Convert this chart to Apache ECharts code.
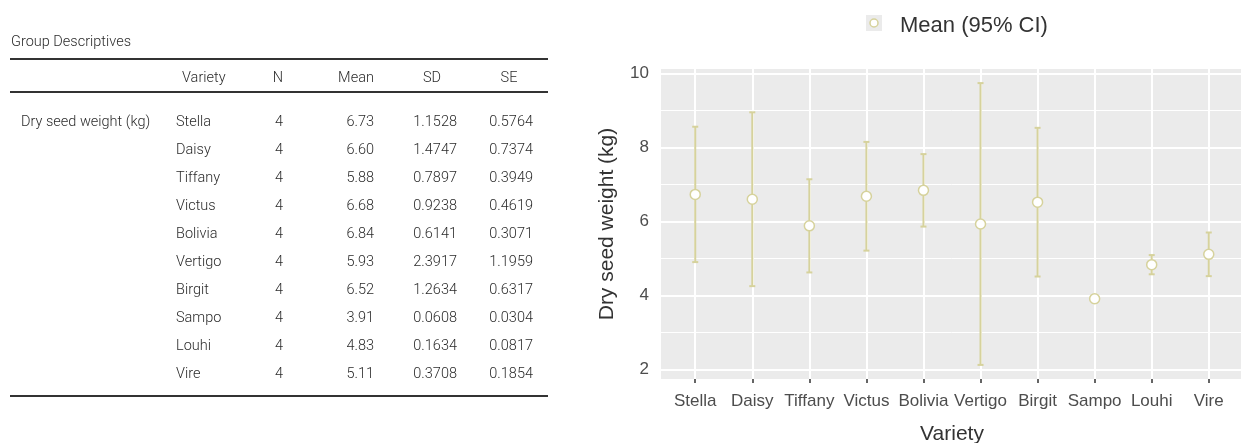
<!DOCTYPE html>
<html>
<head>
<meta charset="utf-8">
<script src="https://cdn.jsdelivr.net/npm/echarts@6/dist/echarts.min.js"></script>
<style>
  html, body { margin: 0; padding: 0; background: #fff; width: 1241px; height: 443px; overflow: hidden; position: relative; }
  #chart { position: absolute; left: 0; top: 0; width: 1241px; height: 443px; }
  #table { position: absolute; left: 0; top: 0; width: 560px; height: 443px; z-index: 2;
           font-family: Roboto, "Open Sans", sans-serif; font-weight: 300; color: #2b2b2b; font-size: 14.5px; }
  .cell { position: absolute; white-space: nowrap; height: 20px; line-height: 20px; }
  .rule { position: absolute; left: 10px; width: 538px; background: #333; }
</style>
</head>
<body>
<div id="chart"></div>
<div id="table"></div>
<script>
// Group descriptives for dry seed weight by variety
const categories = ['Stella', 'Daisy', 'Tiffany', 'Victus', 'Bolivia', 'Vertigo', 'Birgit', 'Sampo', 'Louhi', 'Vire'];
const nValues = [4, 4, 4, 4, 4, 4, 4, 4, 4, 4];
const means = [6.73, 6.60, 5.88, 6.68, 6.84, 5.93, 6.52, 3.91, 4.83, 5.11];
const sds = ['1.1528', '1.4747', '0.7897', '0.9238', '0.6141', '2.3917', '1.2634', '0.0608', '0.1634', '0.3708'];
const ses = ['0.5764', '0.7374', '0.3949', '0.4619', '0.3071', '1.1959', '0.6317', '0.0304', '0.0817', '0.1854'];
// 95% confidence interval bounds of each mean
const ciLower = [4.90, 4.25, 4.62, 5.21, 5.86, 2.12, 4.51, 3.81, 4.57, 4.52];
const ciUpper = [8.56, 8.95, 7.14, 8.15, 7.82, 9.74, 8.53, 4.01, 5.09, 5.70];
const yMajorTicks = [2, 4, 6, 8, 10];
const yMinorTicks = [3, 5, 7, 9];

const tableTitle = 'Group Descriptives';
const dependentLabel = 'Dry seed weight (kg)';
const headers = ['Variety', 'N', 'Mean', 'SD', 'SE'];

// ---- descriptives table ----
(function buildTable() {
  const t = document.getElementById('table');
  function cell(text, x, cy, align) {
    const d = document.createElement('div');
    d.className = 'cell';
    d.textContent = text;
    d.style.top = (cy - 10) + 'px';
    if (align === 'left') { d.style.left = x + 'px'; }
    else if (align === 'right') { d.style.left = (x - 120) + 'px'; d.style.width = '120px'; d.style.textAlign = 'right'; }
    else { d.style.left = (x - 60) + 'px'; d.style.width = '120px'; d.style.textAlign = 'center'; }
    t.appendChild(d);
  }
  function rule(y, h) {
    const r = document.createElement('div');
    r.className = 'rule';
    r.style.top = y + 'px';
    r.style.height = h + 'px';
    t.appendChild(r);
  }
  cell(tableTitle, 11, 42, 'left');
  rule(58, 2);
  const headerY = 78;
  cell(headers[0], 182, headerY, 'left');
  cell(headers[1], 283, headerY, 'right');
  cell(headers[2], 356, headerY, 'center');
  cell(headers[3], 432, headerY, 'center');
  cell(headers[4], 509, headerY, 'center');
  rule(91, 2);
  const rowY0 = 121.5, rowH = 28.1;
  cell(dependentLabel, 21, rowY0, 'left');
  categories.forEach((name, i) => {
    const y = rowY0 + i * rowH;
    cell(name, 176, y, 'left');
    cell(String(nValues[i]), 283, y, 'right');
    cell(means[i].toFixed(2), 374, y, 'right');
    cell(sds[i], 457, y, 'right');
    cell(ses[i], 533, y, 'right');
  });
  rule(395, 2);
})();

// ---- mean and 95% CI plot ----
const lineColor = '#d6d29c';
const panelColor = '#ebebeb';
const lo = Math.min(...ciLower), hi = Math.max(...ciUpper);
const pad = (hi - lo) * 0.05;
const idx = categories.map((_, i) => i);

const chart = echarts.init(document.getElementById('chart'), null, { renderer: 'canvas' });
const gridLines = [];
yMinorTicks.forEach(v => gridLines.push({ yAxis: v, lineStyle: { width: 1 } }));
yMajorTicks.forEach(v => gridLines.push({ yAxis: v, lineStyle: { width: 2 } }));
idx.forEach(v => gridLines.push({ xAxis: v, lineStyle: { width: 2 } }));

chart.setOption({
  animation: false,
  textStyle: { fontFamily: '"Liberation Sans", Arial, sans-serif' },
  grid: {
    left: 661, top: 69, width: 582, height: 310,
    outerBoundsMode: 'none',
    show: true, backgroundColor: panelColor, borderWidth: 0, containLabel: false
  },
  xAxis: {
    type: 'value', min: -0.6, max: idx.length - 1 + 0.6,
    axisLine: { show: false },
    splitLine: { show: false },
    axisTick: { show: true, customValues: idx, length: 4, lineStyle: { color: '#333', width: 1.5 } },
    axisLabel: { customValues: idx, formatter: v => categories[v], fontSize: 17, color: '#4d4d4d', margin: 14 },
    name: 'Variety', nameLocation: 'middle', nameGap: 45,
    nameTextStyle: { fontSize: 21, color: '#333' }
  },
  yAxis: {
    type: 'value', min: lo - pad, max: hi + pad,
    axisLine: { show: false },
    splitLine: { show: false },
    axisTick: { show: true, customValues: yMajorTicks, length: 4, lineStyle: { color: '#333', width: 1.5 } },
    axisLabel: { customValues: yMajorTicks, fontSize: 17, color: '#4d4d4d', margin: 12 },
    name: dependentLabel, nameLocation: 'middle', nameGap: 43,
    nameTextStyle: { fontSize: 21, color: '#333' }
  },
  series: [
    {
      type: 'line', data: [], silent: true, z: 1,
      markLine: {
        z: 1,
        silent: true, symbol: 'none', label: { show: false },
        lineStyle: { color: '#ffffff', type: 'solid' },
        emphasis: { disabled: true },
        data: gridLines
      }
    },
    {
      type: 'custom', z: 3,
      data: idx.map(i => [i, ciLower[i], ciUpper[i]]),
      renderItem: function (params, api) {
        const x = api.value(0);
        const pLo = api.coord([x, api.value(1)]);
        const pHi = api.coord([x, api.value(2)]);
        const cap = 3;
        const style = { stroke: lineColor, lineWidth: 2 };
        return {
          type: 'group',
          children: [
            { type: 'line', shape: { x1: pLo[0], y1: pLo[1], x2: pHi[0], y2: pHi[1] }, style },
            { type: 'line', shape: { x1: pLo[0] - cap, y1: pLo[1], x2: pLo[0] + cap, y2: pLo[1] }, style },
            { type: 'line', shape: { x1: pHi[0] - cap, y1: pHi[1], x2: pHi[0] + cap, y2: pHi[1] }, style }
          ]
        };
      }
    },
    {
      type: 'scatter', name: 'Mean (95% CI)', z: 4,
      data: idx.map(i => [i, means[i]]),
      symbol: 'circle', symbolSize: 10,
      itemStyle: { color: '#ffffff', borderColor: lineColor, borderWidth: 1.5, opacity: 1 }
    }
  ],
  graphic: [
    { type: 'rect', left: 866, top: 15, shape: { width: 16, height: 16 }, style: { fill: panelColor } },
    { type: 'circle', shape: { cx: 874, cy: 23, r: 4 }, style: { fill: '#ffffff', stroke: lineColor, lineWidth: 1.5 } },
    { type: 'text', left: 900, top: 15, style: { text: 'Mean (95% CI)', font: '22px "Liberation Sans", Arial, sans-serif', fill: '#333' } }
  ]
});
</script>
</body>
</html>
